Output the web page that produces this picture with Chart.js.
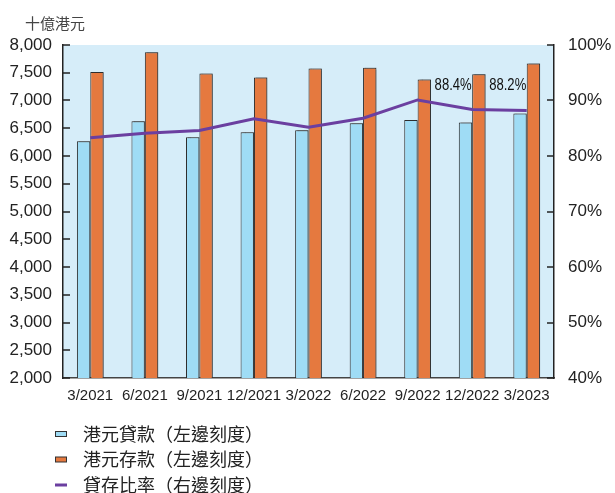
<!DOCTYPE html>
<html>
<head>
<meta charset="utf-8">
<script src="https://cdn.jsdelivr.net/npm/chart.js@4"></script>
<style>
    html, body { margin: 0; padding: 0; background: #fff; }
    #wrap { width: 615px; height: 493px; }
</style>
</head>
<body>
<div id="wrap"><canvas id="ratio-chart"></canvas></div>
<script>
const quarters = ['3/2021', '6/2021', '9/2021', '12/2021', '3/2022', '6/2022', '9/2022', '12/2022', '3/2023'];
const hkdLoans = [6265, 6625, 6340, 6430, 6465, 6590, 6650, 6605, 6765];
const hkdDeposits = [7515, 7870, 7485, 7415, 7575, 7590, 7380, 7475, 7665];
const ldRatio = [83.3, 84.1, 84.6, 86.7, 85.2, 86.8, 90.1, 88.4, 88.2];
const labelledPoints = [7, 8];

const legendItems = [
    { text: '港元貸款（左邊刻度）', type: 'box', color: '#9fdcf5' },
    { text: '港元存款（左邊刻度）', type: 'box', color: '#e5793f' },
    { text: '貸存比率（右邊刻度）', type: 'line', color: '#6b3fa0' }
];

const FONT = '"Liberation Sans", Arial, sans-serif';
const CJK = '"Noto Sans CJK TC", "Noto Sans CJK SC", sans-serif';

// plot background, inward tick marks, unit caption, point labels and legend
const decorations = {
    id: 'decorations',
    beforeDraw(chart) {
        const { ctx, chartArea: a } = chart;
        ctx.save();
        ctx.fillStyle = '#d6edf9';
        ctx.fillRect(a.left, a.top, a.right - a.left, a.bottom - a.top);
        ctx.restore();
    },
    beforeDatasetDraw(chart, args) {
        if (args.meta.type !== 'bar') return;
        const ctx = chart.ctx;
        ctx.save();
        ctx.shadowColor = 'rgba(60,60,60,0.45)';
        ctx.shadowOffsetX = 2;
        ctx.shadowOffsetY = -1;
        ctx.shadowBlur = 1;
    },
    afterDatasetDraw(chart, args) {
        if (args.meta.type !== 'bar') return;
        chart.ctx.restore();
    },
    afterDraw(chart) {
        const { ctx, chartArea: a, scales } = chart;
        ctx.save();
        ctx.strokeStyle = '#222';
        ctx.lineWidth = 1.5;
        scales.y.ticks.forEach(t => {
            const py = Math.round(scales.y.getPixelForValue(t.value));
            ctx.beginPath();
            ctx.moveTo(a.left, py);
            ctx.lineTo(a.left + 7, py);
            ctx.stroke();
        });
        scales.y1.ticks.forEach(t => {
            const py = Math.round(scales.y1.getPixelForValue(t.value));
            ctx.beginPath();
            ctx.moveTo(a.right, py);
            ctx.lineTo(a.right - 7, py);
            ctx.stroke();
        });

        // unit caption
        ctx.fillStyle = '#444';
        ctx.font = '15px ' + CJK;
        ctx.textAlign = 'left';
        ctx.textBaseline = 'middle';
        ctx.fillText('十億港元', 25, 23);

        // ratio labels, squeezed horizontally
        const meta = chart.getDatasetMeta(2);
        ctx.fillStyle = '#111';
        ctx.font = '17px ' + FONT;
        ctx.textAlign = 'center';
        ctx.textBaseline = 'bottom';
        labelledPoints.forEach(i => {
            const pt = meta.data[i];
            ctx.save();
            ctx.translate(pt.x - 19, 94);
            ctx.scale(0.77, 1);
            ctx.fillText(ldRatio[i].toFixed(1) + '%', 0, 0);
            ctx.restore();
        });

        // legend
        ctx.font = '18px ' + CJK;
        ctx.textAlign = 'left';
        ctx.textBaseline = 'middle';
        legendItems.forEach((item, i) => {
            const cy = 434 + i * 25.5;
            if (item.type === 'box') {
                ctx.fillStyle = item.color;
                ctx.fillRect(55.5, cy - 2.5, 11, 5);
                ctx.strokeStyle = '#333';
                ctx.lineWidth = 1;
                ctx.strokeRect(55.5, cy - 2.5, 11, 5);
            } else {
                ctx.strokeStyle = item.color;
                ctx.lineWidth = 3;
                ctx.beginPath();
                ctx.moveTo(55, cy);
                ctx.lineTo(67, cy);
                ctx.stroke();
            }
            ctx.fillStyle = '#222';
            ctx.fillText(item.text, 83, cy);
        });
        ctx.restore();
    }
};

new Chart(document.getElementById('ratio-chart'), {
    type: 'bar',
    data: {
        labels: quarters,
        datasets: [
            {
                label: '港元貸款',
                data: hkdLoans,
                backgroundColor: '#9fdcf5',
                borderColor: '#2a2a2a',
                borderWidth: 1,
                categoryPercentage: 0.49,
                barPercentage: 1,
                yAxisID: 'y',
                order: 2
            },
            {
                label: '港元存款',
                data: hkdDeposits,
                backgroundColor: '#e5793f',
                borderColor: '#2a2a2a',
                borderWidth: 1,
                categoryPercentage: 0.49,
                barPercentage: 1,
                yAxisID: 'y',
                order: 2
            },
            {
                type: 'line',
                label: '貸存比率',
                data: ldRatio,
                borderColor: '#6b3fa0',
                borderWidth: 3,
                pointRadius: 0,
                tension: 0,
                yAxisID: 'y1',
                order: 1
            }
        ]
    },
    options: {
        responsive: true,
        maintainAspectRatio: false,
        animation: false,
        layout: { padding: { top: 45, left: 0, right: 0, bottom: 0 } },
        plugins: {
            legend: { display: false },
            tooltip: { enabled: false }
        },
        scales: {
            x: {
                grid: { display: false, drawTicks: false },
                border: { color: '#444', width: 1.5 },
                ticks: {
                    color: '#222',
                    font: { family: FONT, size: 15 },
                    padding: 9,
                    maxRotation: 0,
                    autoSkip: false
                },
                afterFit(scale) { scale.height = 115; }
            },
            y: {
                position: 'left',
                min: 2000,
                max: 8000,
                grid: { display: false, drawTicks: false },
                border: { color: '#222', width: 1.5 },
                ticks: {
                    stepSize: 500,
                    color: '#222',
                    padding: 11,
                    font: { family: FONT, size: 17 },
                    callback: v => v.toLocaleString('en-US')
                },
                afterFit(scale) { scale.width = 63; }
            },
            y1: {
                position: 'right',
                min: 40,
                max: 100,
                grid: { display: false, drawTicks: false },
                border: { color: '#222', width: 1.5 },
                ticks: {
                    stepSize: 10,
                    color: '#222',
                    padding: 14,
                    font: { family: FONT, size: 17 },
                    callback: v => v + '%'
                },
                afterFit(scale) { scale.width = 61; }
            }
        }
    },
    plugins: [decorations]
});
</script>
</body>
</html>
